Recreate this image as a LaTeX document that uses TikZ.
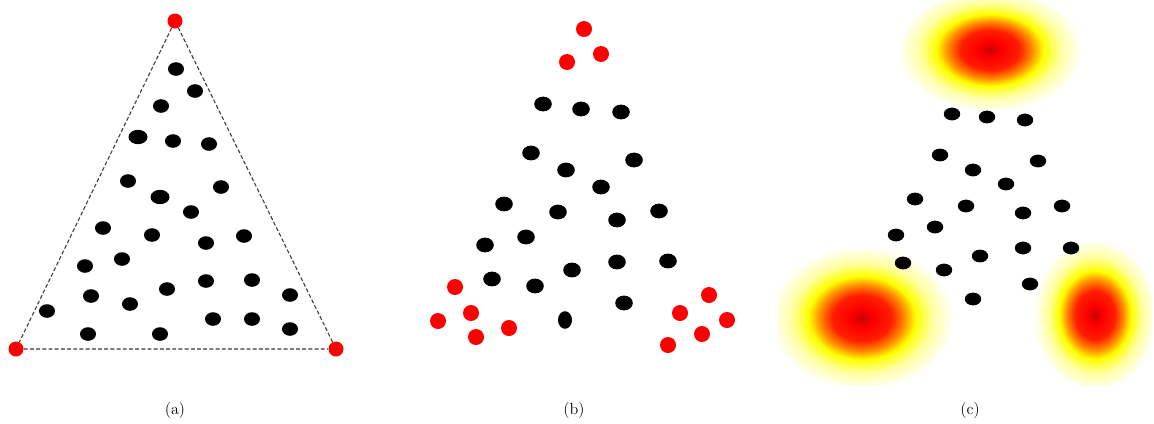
\documentclass[tikz,border=0pt]{standalone}
\usetikzlibrary{positioning}

\definecolor{coreRed}{rgb}{0.80,0,0}
\definecolor{hotRed}{rgb}{1,0.12,0}
\definecolor{hotOrange}{rgb}{1,0.55,0}
\definecolor{paleYellow}{rgb}{1,1,0.62}
\definecolor{edgeGray}{rgb}{0.22,0.22,0.22}

\pgfdeclareradialshading{heatblob}{\pgfpointorigin}{%
  color(0bp)=(coreRed); color(3.5bp)=(red); color(8bp)=(hotRed);
  color(11.5bp)=(hotOrange); color(14.5bp)=(yellow); color(19bp)=(paleYellow);
  color(25bp)=(white); color(50bp)=(white)}

\begin{document}
\begin{tikzpicture}[
    x=0.025cm, y=-0.025cm,
    corner/.style={circle, fill=red, inner sep=0pt, minimum size=0.375cm},
    triedge/.style={draw=edgeGray, line width=0.75pt, dash pattern=on 2.8pt off 1.6pt},
    lbl/.style={font=\fontsize{11.5}{14}\selectfont}
  ]
    \useasboundingbox (0,0) rectangle (1154,423);

    % (a) points inside the triangle
    \node[corner] (apex) at (175,21) {};
    \node[corner] (baseL) at (16,349) {};
    \node[corner] (baseR) at (336,349) {};
    \draw[triedge] (apex) -- (baseL) -- (baseR) -- (apex);
    \foreach \px/\py in {176/69, 195/91, 161/106, 173/141, 209/144, 128/181, 221/187,
        191/212, 103/228, 152/235, 206/243, 244/236, 85/266, 122/259, 91/296, 130/304,
        167/289, 206/281, 252/280, 290/295, 47/311, 88/334, 160/334, 213/319, 252/319, 290/329}
      \fill (\px,\py) ellipse (8 and 6.8);
    \foreach \px/\py in {138/137, 160/197}
      \fill (\px,\py) ellipse (9.5 and 7.2);
    \node[lbl] (capA) at (175,410) {(a)};

    % (b) extreme points in red
    \foreach \px/\py in {543/104, 581/109, 621/112, 531/153, 566/170, 634/160, 601/187,
        504/204, 558/212, 617/220, 659/211, 485/245, 526/237, 492/279, 535/286, 572/270,
        617/262, 668/261, 624/303}
      \fill (\px,\py) ellipse (8.8 and 7.4);
    \fill (565,320) ellipse (7 and 8.8);
    \foreach \px/\py in {584/29, 567/62, 601/54, 455/287, 438/321, 471/313, 476/337,
        509/328, 709/295, 680/313, 727/320, 702/334, 668/345}
      \fill[red] (\px,\py) circle (8);
    \node[lbl] (capB) at (574,410) {(b)};

    % (c) density at the corners
    \begin{scope}
      \clip (778,0) rectangle (1152,385);
      \shade[shading=heatblob] (990,50) ellipse (92 and 62);
      \shade[shading=heatblob] (862,318) ellipse (92 and 72);
      \shade[shading=heatblob] (1095,315) ellipse (62 and 76);
    \end{scope}
    \foreach \px/\py in {952/114, 987/117, 1025/120, 940/155, 973/170, 1038/161, 1006/184,
        915/199, 966/206, 1023/213, 1062/206, 896/235, 935/227, 903/263, 944/270, 980/256,
        1023/248, 1071/248, 1030/284, 973/299}
      \fill (\px,\py) ellipse (8.2 and 6.4);
    \node[lbl] (capC) at (970,410) {(c)};
\end{tikzpicture}
\end{document}
